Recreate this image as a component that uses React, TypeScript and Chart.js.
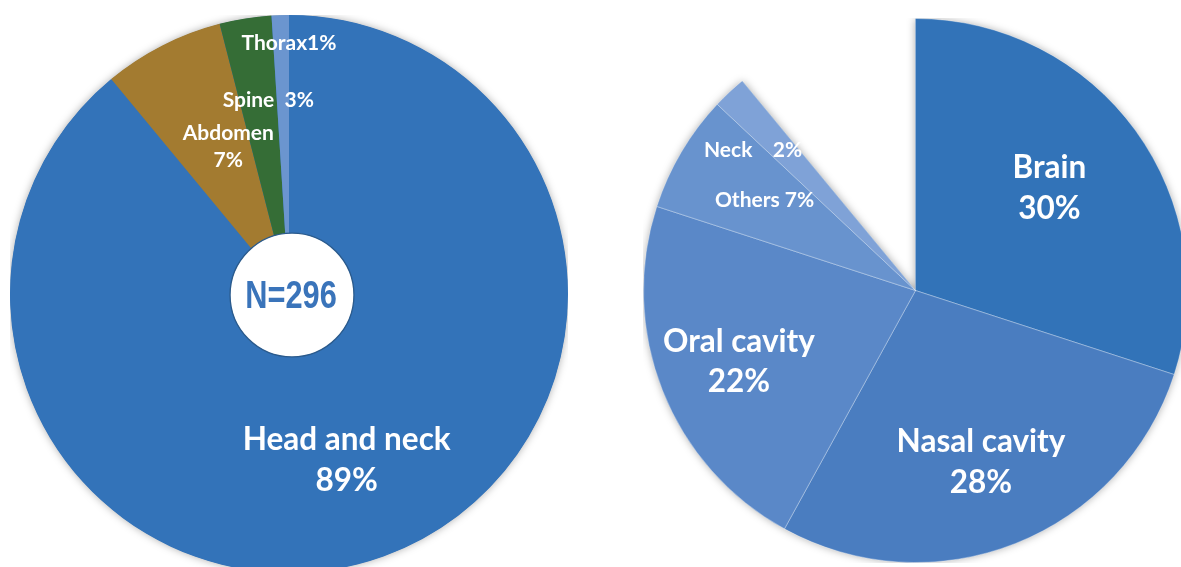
import React, { useEffect, useRef } from "react";
import { Chart, registerables } from "chart.js";

Chart.register(...registerables);

// ---- Data ----
const leftCategories = ["Head and neck", "Abdomen", "Spine", "Thorax"];
const leftValues = [89, 7, 3, 1];
const leftLabelLines = [["Head and neck", "89%"], ["Abdomen", "7%"], ["Spine  3%"], ["Thorax1%"]];
const leftColors = ["#3373B9", "#A37B30", "#356D36", "#6B95CF"];
const leftTotalText = "N=296";

const rightCategories = ["Brain", "Nasal cavity", "Oral cavity", "Others", "Neck", "Rest"];
const rightValues = [30, 28, 22, 7, 2, 11];
const rightLabelLines = [["Brain", "30%"], ["Nasal cavity", "28%"], ["Oral cavity", "22%"], ["Others 7%"], ["Neck    2%"], []];
const rightColors = ["#3273B8", "#4A7DC0", "#5A88C8", "#6893CE", "#7FA2D7", "rgba(0,0,0,0)"];

// label placement style (relative to slice): radius fraction, angle shift (deg), font size
const leftLabelRadius = [0.632, 0.571, 0.70, 0.898];
const leftLabelShift = [0.7, 4.6, 2.9, 1.8];
const leftLabelSize = [31.5, 21, 21, 21];
const rightLabelRadius = [0.62, 0.675, 0.70, 0.646, 0.79, 0];
const rightLabelShift = [-1.4, 0.7, -0.4, 0.2, -5.9, 0];
const rightLabelSize = [31.5, 31.5, 31.5, 21, 21, 21];

const FONT = "Lato, 'Open Sans', 'Liberation Sans', sans-serif";

const isVisible = (c: string) => c !== "rgba(0,0,0,0)";

function makePlugins(lines: string[][], radius: number[], shift: number[], sizes: number[], colors: string[], center?: string) {
  const shadow = {
    id: "shadow",
    beforeDatasetsDraw(chart: any) {
      const meta = chart.getDatasetMeta(0);
      const arcs = meta.data;
      if (!arcs.length) return;
      let last = 0;
      arcs.forEach((_a: any, i: number) => { if (isVisible(colors[i])) last = i; });
      const p0 = arcs[0].getProps(["x", "y", "outerRadius", "startAngle"], true);
      const pl = arcs[last].getProps(["endAngle"], true);
      const ctx = chart.ctx;
      ctx.save();
      ctx.shadowColor = "rgba(0,0,0,0.35)";
      ctx.shadowBlur = 9;
      ctx.fillStyle = colors[0];
      ctx.beginPath();
      ctx.moveTo(p0.x, p0.y);
      ctx.arc(p0.x, p0.y, p0.outerRadius - 0.5, p0.startAngle, pl.endAngle);
      ctx.closePath();
      ctx.fill();
      ctx.restore();
    },
  };
  const labels = {
    id: "labels",
    afterDatasetsDraw(chart: any) {
      const ctx = chart.ctx;
      const arcs = chart.getDatasetMeta(0).data;
      if (center && arcs.length) {
        const p = arcs[0].getProps(["x", "y", "outerRadius"], true);
        const r = p.outerRadius * 0.222;
        ctx.save();
        ctx.beginPath();
        ctx.arc(p.x + 3, p.y + 1, r, 0, Math.PI * 2);
        ctx.fillStyle = "#FFFFFF";
        ctx.fill();
        ctx.lineWidth = 1.3;
        ctx.strokeStyle = "#2A5A8C";
        ctx.stroke();
        ctx.fillStyle = "#3A74BA";
        ctx.font = "bold 38px 'Liberation Sans', Arial, sans-serif";
        ctx.textAlign = "center";
        ctx.textBaseline = "middle";
        ctx.translate(p.x + 2, p.y + 4);
        ctx.scale(0.81, 1);
        ctx.fillText(center, 0, 0);
        ctx.restore();
      }
      arcs.forEach((arc: any, i: number) => {
        const ls = lines[i];
        if (!ls || !ls.length) return;
        const p = arc.getProps(["x", "y", "outerRadius", "startAngle", "endAngle"], true);
        const a = (p.startAngle + p.endAngle) / 2 + (shift[i] * Math.PI) / 180;
        const rr = p.outerRadius * radius[i];
        const cx = p.x + rr * Math.cos(a);
        const cy = p.y + rr * Math.sin(a);
        const size = sizes[i];
        const lh = size * 1.3;
        ctx.save();
        ctx.fillStyle = "#FFFFFF";
        ctx.font = `bold ${size}px ${FONT}`;
        ctx.textAlign = "center";
        ctx.textBaseline = "middle";
        const top = cy - ((ls.length - 1) * lh) / 2;
        ls.forEach((t, j) => ctx.fillText(t, cx, top + j * lh));
        ctx.restore();
      });
    },
  };
  return [shadow, labels];
}

function PieCanvas(props: {
  cats: string[]; values: number[]; colors: string[]; borderColors: string[]; borderWidth: number;
  lines: string[][]; radius: number[]; shift: number[]; sizes: number[]; center?: string;
  left: number; top: number; size: number;
}) {
  const ref = useRef<HTMLCanvasElement | null>(null);
  useEffect(() => {
    if (!ref.current) return;
    const chart = new Chart(ref.current, {
      type: "pie",
      data: {
        labels: props.cats,
        datasets: [{
          data: props.values,
          backgroundColor: props.colors,
          borderColor: props.borderColors,
          borderWidth: props.borderWidth,
          hoverOffset: 0,
        }],
      },
      options: {
        responsive: false,
        animation: false,
        layout: { padding: 0 },
        events: [],
        plugins: { legend: { display: false }, tooltip: { enabled: false } },
      },
      plugins: makePlugins(props.lines, props.radius, props.shift, props.sizes, props.colors, props.center),
    });
    return () => chart.destroy();
  }, []);
  return (
    <canvas
      ref={ref}
      width={props.size}
      height={props.size}
      style={{ position: "absolute", left: props.left, top: props.top, width: props.size, height: props.size }}
    />
  );
}

export default function App() {
  return (
    <div style={{ position: "fixed", left: 0, top: 0, width: 1181, height: 567, overflow: "hidden", background: "#FFFFFF" }}>
      <PieCanvas
        cats={leftCategories} values={leftValues} colors={leftColors}
        borderColors={leftColors} borderWidth={0}
        lines={leftLabelLines} radius={leftLabelRadius} shift={leftLabelShift} sizes={leftLabelSize}
        center={leftTotalText} left={10} top={15} size={558}
      />
      <PieCanvas
        cats={rightCategories} values={rightValues} colors={rightColors}
        borderColors={["rgba(255,255,255,0.35)", "rgba(255,255,255,0.35)", "rgba(255,255,255,0.35)", "rgba(255,255,255,0.35)", "rgba(255,255,255,0.35)", "rgba(0,0,0,0)"]}
        borderWidth={1}
        lines={rightLabelLines} radius={rightLabelRadius} shift={rightLabelShift} sizes={rightLabelSize}
        left={643} top={18} size={545}
      />
    </div>
  );
}
